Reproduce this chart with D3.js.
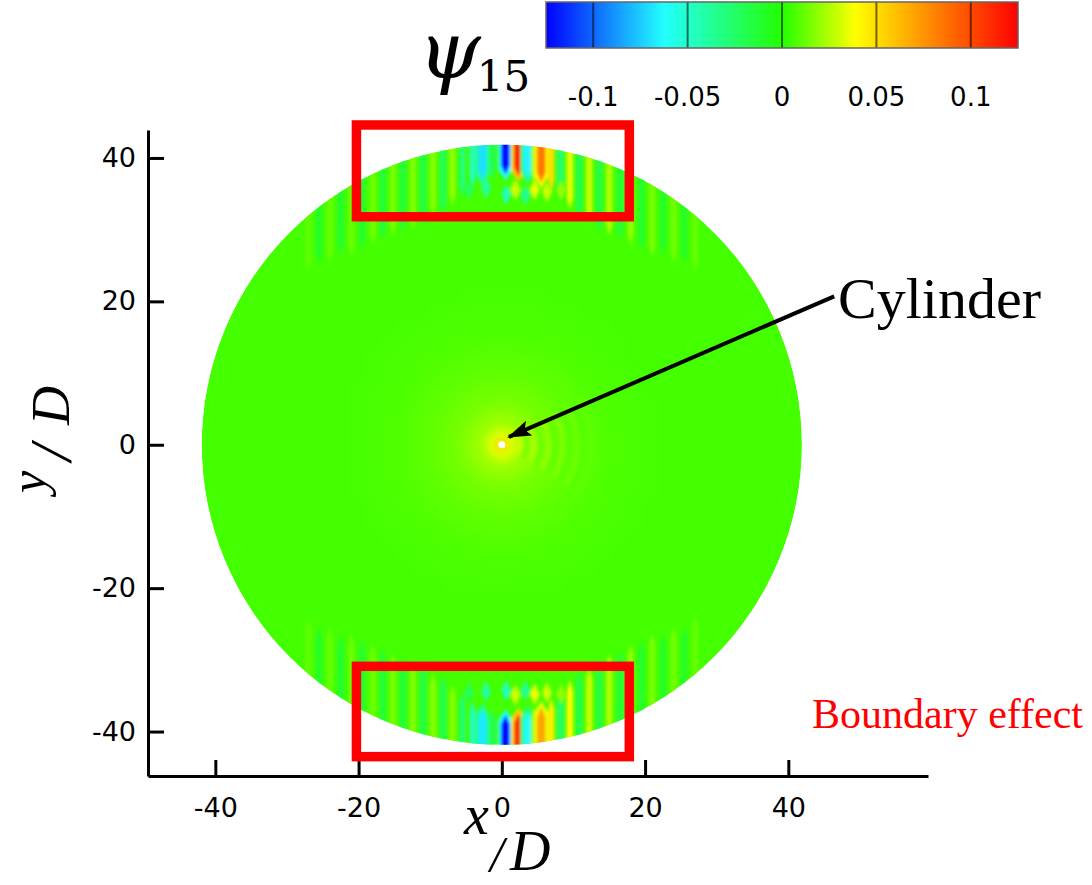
<!DOCTYPE html>
<html>
<head>
<meta charset="utf-8">
<script src="https://cdn.jsdelivr.net/npm/d3@7"></script>
<style>
  body { margin: 0; background: #fff; }
  svg { display: block; }
</style>
</head>
<body>
<div id="chart"></div>
<script>
const W = 1092, H = 885;

// colormap (tecplot-like rainbow) and colorbar
const cmapValues = [-0.125, -0.0625, 0, 0.039, 0.125];
const cmapColors = ["#0000ff", "#22ffff", "#22ff00", "#ffff00", "#ff0000"];
const cbTicks = [-0.1, -0.05, 0, 0.05, 0.1];
const cbTickLabels = ["-0.1", "-0.05", "0", "0.05", "0.1"];

const xTicks = [-40, -20, 0, 20, 40];
const yTicks = [-40, -20, 0, 20, 40];

const domainRadius = 41.9;
const cylinderRadius = 0.5;
const baseValue = 0.006;

// soft bump of psi around the cylinder
const glowR   = [0, 1.5, 3, 6, 10, 15, 22];
const glowVal = [0.05, 0.032, 0.022, 0.015, 0.011, 0.008, 0.006];

// faint wake rings right of the cylinder
const wakeR   = [2.5, 3.5, 4.5, 5.5, 6.5, 7.5, 8.5, 9.5, 10.5, 11.5, 12.5];
const wakeVal = [0.032, 0.01, 0.028, 0.01, 0.024, 0.009, 0.02, 0.008, 0.016, 0.008, 0.012];

// stripes at the outer boundary, top (y > 0) and bottom (y < 0)
const stripeX = [-27, -25.5, -24, -22.5, -21, -19.5, -18, -16.6, -15.2, -13.8, -12.4, -11.0, -9.6, -8.2, -6.9, -5.5, -4.1, -2.7, -1.3, 0.5, 2.3, 3.6, 4.5, 5.5, 6.9, 8.2, 9.5, 10.8, 12.2, 13.6, 15.0, 16.5, 18, 19.5, 21, 22.5, 24, 25.5, 27];
const topStripeVal = [0.011, -0.01, 0.012, -0.012, 0.013, -0.013, 0.014, -0.015, 0.015, -0.016, 0.017, -0.018, 0.018, -0.022, 0.02, -0.03, -0.045, -0.07, -0.02, -0.125, 0.115, -0.065, 0.02, 0.085, 0.05, -0.03, 0.035, -0.02, 0.03, -0.018, 0.025, -0.015, 0.02, -0.012, 0.016, -0.01, 0.014, -0.01, 0.012];
const botStripeVal = [0.011, -0.01, 0.012, -0.012, 0.013, -0.013, 0.014, -0.015, 0.015, -0.016, 0.017, -0.018, 0.018, -0.02, 0.018, -0.028, -0.045, -0.068, -0.02, -0.125, 0.11, -0.06, 0.02, 0.07, 0.045, -0.028, 0.04, -0.02, 0.03, -0.018, 0.025, -0.015, 0.02, -0.012, 0.016, -0.01, 0.014, -0.01, 0.012];
const stripeReach = [8, 8, 9, 9, 10, 10, 10, 10, 10, 10, 10, 10, 9, 9, 8, 7, 6, 5, 5, 4.2, 4.4, 4.6, 5, 5, 6, 7, 8, 9, 9, 10, 10, 10, 10, 10, 10, 9, 9, 8, 8];

// second row of small diamond-shaped blobs
const diamondX      = [-4.6, -2.2, 0.6, 1.9, 3.3, 4.6, 6.3, 8.3];
const topDiamondY   = [35.6, 35.8, 34.9, 35.6, 34.8, 35.6, 35.3, 35.5];
const botDiamondY   = [-34.6, -34.4, -34.3, -34.9, -34.3, -34.8, -34.6, -34.8];
const diamondVal    = [-0.022, -0.04, -0.045, 0.03, -0.035, 0.035, 0.03, 0.02];

// red boxes
const boxX = [-20.3, 17.8];
const topBoxY = [31.8, 44.6];
const botBoxY = [-43.5, -30.9];

// annotation arrow
const arrowFrom = [46.4, 20.7];
const arrowTo = [1.0, 1.1];

const svg = d3.select("#chart").append("svg")
    .attr("width", W)
    .attr("height", H);

const x = d3.scaleLinear().domain([-49.4, 59.5]).range([148, 928]);
const y = d3.scaleLinear().domain([-46.2, 43.9]).range([776, 130]);
const color = d3.scaleLinear().domain(cmapValues).range(cmapColors).clamp(true);
const pxPerUnit = x(1) - x(0);

const defs = svg.append("defs");
defs.append("clipPath").attr("id", "disc")
  .append("circle")
    .attr("cx", x(0)).attr("cy", y(0))
    .attr("r", domainRadius * pxPerUnit);

const blur = defs.append("filter").attr("id", "soft")
    .attr("x", "-50%").attr("y", "-50%").attr("width", "200%").attr("height", "200%");
blur.append("feGaussianBlur").attr("stdDeviation", 1.8);

const glow = defs.append("radialGradient").attr("id", "glow")
    .attr("gradientUnits", "userSpaceOnUse")
    .attr("cx", x(0)).attr("cy", y(0))
    .attr("r", glowR[glowR.length - 1] * pxPerUnit);
glowR.forEach(function(r, i) {
    glow.append("stop")
        .attr("offset", r / glowR[glowR.length - 1])
        .attr("stop-color", color(glowVal[i]));
});

// ---- field ----
const field = svg.append("g").attr("clip-path", "url(#disc)");

field.append("circle")
    .attr("cx", x(0)).attr("cy", y(0))
    .attr("r", domainRadius * pxPerUnit)
    .attr("fill", color(baseValue));

field.append("circle")
    .attr("cx", x(0)).attr("cy", y(0))
    .attr("r", glowR[glowR.length - 1] * pxPerUnit)
    .attr("fill", "url(#glow)");

const arc = d3.arc();
field.append("g").attr("filter", "url(#soft)")
  .selectAll("path")
  .data(wakeR)
  .enter().append("path")
    .attr("transform", `translate(${x(0)},${y(0)})`)
    .attr("d", function(r) {
        return arc({innerRadius: (r - 0.25) * pxPerUnit, outerRadius: (r + 0.25) * pxPerUnit,
                    startAngle: Math.PI / 2 - 0.55, endAngle: Math.PI / 2 + 0.55});
    })
    .attr("fill", function(r, i) { return color(wakeVal[i]); })
    .attr("opacity", 0.6);

const line = d3.line().x(d => x(d[0])).y(d => y(d[1]));

function stripePoints(cx, reach, w, side) {
    const yb = Math.sqrt(domainRadius * domainRadius - cx * cx);
    const tip = Math.min(1.6, reach * 0.3);
    return [
        [cx - w / 2, side * (yb + 2)],
        [cx + w / 2, side * (yb + 2)],
        [cx + w / 2, side * (yb - reach + tip)],
        [cx, side * (yb - reach)],
        [cx - w / 2, side * (yb - reach + tip)]
    ];
}

function drawStripes(vals, side) {
    const g = field.append("g").attr("filter", "url(#soft)");
    stripeX.forEach(function(cx, i) {
        const v = vals[i];
        const strong = Math.abs(v) > 0.05;
        if (strong) {
            g.append("path")
                .attr("d", line(stripePoints(cx, stripeReach[i] + 0.8, 2.0, side)) + "Z")
                .attr("fill", color(v * 0.5));
        }
        g.append("path")
            .attr("d", line(stripePoints(cx, stripeReach[i], strong ? 1.15 : 0.85, side)) + "Z")
            .attr("fill", color(v));
    });
}
drawStripes(topStripeVal, 1);
drawStripes(botStripeVal, -1);

function drawDiamonds(ys) {
    field.append("g").attr("filter", "url(#soft)")
      .selectAll("path")
      .data(diamondX)
      .enter().append("path")
        .attr("d", function(dx, i) {
            const dy = ys[i];
            return line([[dx - 0.7, dy], [dx, dy + 1.5], [dx + 0.7, dy], [dx, dy - 1.5]]) + "Z";
        })
        .attr("fill", function(dx, i) { return color(diamondVal[i]); });
}
drawDiamonds(topDiamondY);
drawDiamonds(botDiamondY);

// cylinder
svg.append("circle")
    .attr("cx", x(0)).attr("cy", y(0))
    .attr("r", cylinderRadius * pxPerUnit)
    .attr("fill", "#ffffff");

// ---- axes ----
const xAxis = d3.axisBottom(x).tickValues(xTicks).tickFormat(d => String(d))
    .tickSizeInner(-16).tickSizeOuter(0).tickPadding(22);
const yAxis = d3.axisLeft(y).tickValues(yTicks).tickFormat(d => String(d))
    .tickSizeInner(-16).tickSizeOuter(0).tickPadding(12);

const gx = svg.append("g").attr("transform", `translate(0,${y.range()[0]})`).call(xAxis);
const gy = svg.append("g").attr("transform", `translate(${x.range()[0]},0)`).call(yAxis);
[gx, gy].forEach(function(g) {
    g.select(".domain").attr("stroke", "#000").attr("stroke-width", 3);
    g.selectAll(".tick line").attr("stroke", "#000").attr("stroke-width", 3);
    g.selectAll(".tick text")
        .attr("fill", "#000")
        .style("font-family", "'DejaVu Sans', Verdana, sans-serif")
        .style("font-size", "27px");
});

// axis titles: x/D and y/D written as small "fractions"
const serif = "'Liberation Serif', 'Times New Roman', serif";
function titlePart(g, tx, ty, size, str) {
    g.append("text")
        .attr("x", tx).attr("y", ty)
        .style("font-family", serif)
        .style("font-style", "italic")
        .style("font-size", size + "px")
        .attr("fill", "#000")
        .text(str);
}
const xTitle = svg.append("g");
titlePart(xTitle, 464, 834, 56, "x");
titlePart(xTitle, 490, 871, 50, "/");
titlePart(xTitle, 510, 870, 56, "D");

const yTitle = svg.append("g").attr("transform", "translate(45,493) rotate(-90)");
titlePart(yTitle, 0, 0, 50, "y");
titlePart(yTitle, 32, 26, 60, "/");
titlePart(yTitle, 68, 24, 54, "D");

// ---- red boxes ----
function drawBox(by) {
    svg.append("rect")
        .attr("x", x(boxX[0]))
        .attr("y", y(by[1]))
        .attr("width", x(boxX[1]) - x(boxX[0]))
        .attr("height", y(by[0]) - y(by[1]))
        .attr("fill", "none")
        .attr("stroke", "#ff0000")
        .attr("stroke-width", 9.5);
}
drawBox(topBoxY);
drawBox(botBoxY);

// ---- annotations ----
defs.append("marker").attr("id", "head")
    .attr("markerUnits", "userSpaceOnUse")
    .attr("viewBox", "0 0 24 16")
    .attr("markerWidth", 24).attr("markerHeight", 16)
    .attr("refX", 22).attr("refY", 8)
    .attr("orient", "auto")
  .append("path")
    .attr("d", "M0,0 L24,8 L0,16 L5,8 Z")
    .attr("fill", "#000");

svg.append("line")
    .attr("x1", x(arrowFrom[0])).attr("y1", y(arrowFrom[1]))
    .attr("x2", x(arrowTo[0])).attr("y2", y(arrowTo[1]))
    .attr("stroke", "#000")
    .attr("stroke-width", 4)
    .attr("marker-end", "url(#head)");

svg.append("text")
    .attr("x", 838).attr("y", 318)
    .style("font-family", serif)
    .style("font-size", "58px")
    .attr("fill", "#000")
    .text("Cylinder");

svg.append("text")
    .attr("x", 812).attr("y", 728)
    .style("font-family", serif)
    .style("font-size", "42px")
    .attr("fill", "#ff0000")
    .text("Boundary effect");

// ---- colorbar ----
const cb = d3.scaleLinear().domain([-0.125, 0.125]).range([546, 1018]);
const cbGrad = defs.append("linearGradient").attr("id", "cbgrad");
cmapValues.forEach(function(v, i) {
    cbGrad.append("stop")
        .attr("offset", (v - cb.domain()[0]) / (cb.domain()[1] - cb.domain()[0]))
        .attr("stop-color", cmapColors[i]);
});
svg.append("rect")
    .attr("x", cb.range()[0]).attr("y", 2)
    .attr("width", cb.range()[1] - cb.range()[0]).attr("height", 46)
    .attr("fill", "url(#cbgrad)");
svg.selectAll(".cbline")
    .data(cbTicks)
    .enter().append("line")
    .attr("x1", d => cb(d)).attr("x2", d => cb(d))
    .attr("y1", 2).attr("y2", 48)
    .attr("stroke", "rgba(0,0,0,0.55)")
    .attr("stroke-width", 2);
svg.append("rect")
    .attr("x", cb.range()[0]).attr("y", 2)
    .attr("width", cb.range()[1] - cb.range()[0]).attr("height", 46)
    .attr("fill", "none")
    .attr("stroke", "#666")
    .attr("stroke-width", 1.5);
svg.selectAll(".cblabel")
    .data(cbTicks)
    .enter().append("text")
    .attr("x", d => cb(d)).attr("y", 106)
    .attr("text-anchor", "middle")
    .style("font-family", "'DejaVu Sans', Verdana, sans-serif")
    .style("font-size", "26px")
    .attr("fill", "#000")
    .text((d, i) => cbTickLabels[i]);

const psi = svg.append("text")
    .attr("x", 418).attr("y", 78)
    .style("font-family", "'DejaVu Serif', serif")
    .attr("fill", "#000");
psi.append("tspan").style("font-style", "italic").style("font-size", "80px").text("ψ");
psi.append("tspan").style("font-size", "42px").attr("dx", -4).attr("dy", 13).text("15");
</script>
</body>
</html>
